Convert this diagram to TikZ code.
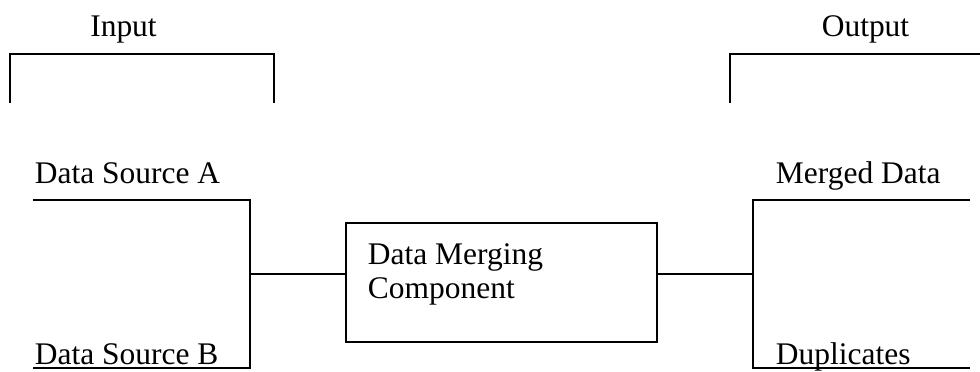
\documentclass[tikz,border=0pt]{standalone}
\usepackage{fontspec}
\setmainfont{Liberation Serif}
\usepackage{tikz}
\usetikzlibrary{calc}
\tikzset{
every picture/.style={line width=1.4pt, x=0.75pt, y=-0.75pt},
lbl/.style={inner sep=0pt, anchor=base west, font=\fontsize{23.6}{28}\selectfont}
}

\begin{document}
\begin{tikzpicture}
    \useasboundingbox (0,0) rectangle (980,371);
    % headings and brackets
    \node[lbl, anchor=base] (input) at (123.5,36) {Input};
    \node[lbl, anchor=base] (output) at (865.5,36) {Output};
    \coordinate (in1) at (10,103);
    \coordinate (in2) at (10,54);
    \coordinate (in3) at (274,54);
    \coordinate (in4) at (274,103);
    \coordinate (out1) at (730,103);
    \coordinate (out2) at (730,54);
    \coordinate (out3) at (980,54);
    \draw (in1) -- (in2) -- (in3) -- (in4);
    \draw (out1) -- (out2) -- (out3);
    % the component
    \node[draw, minimum width=233.25pt, minimum height=89.25pt, inner sep=0pt] (merge) at (501.5,282.5) {};
    \node[lbl] (mergetop) at (367,264) {Data Merging};
    \node[lbl] (mergebot) at (367,298) {Component};
    % inputs
    \node[lbl] (srcA) at (34,183) {Data Source A};
    \node[lbl] (srcB) at (34,364) {Data Source B};
    \coordinate (a) at (33,200);
    \coordinate (b) at (33,368);
    \coordinate (lt) at (250,200);
    \coordinate (lb) at (250,368);
    \coordinate (lm) at (250,274);
    \draw (a) -- (lt) -- (lb) -- (b);
    \draw (lm) -- (lm -| merge.west);
    % outputs
    \node[lbl] (merged) at (775,183) {Merged Data};
    \node[lbl] (dups) at (775,364) {Duplicates};
    \coordinate (c) at (970,200);
    \coordinate (d) at (970,368);
    \coordinate (rt) at (753,200);
    \coordinate (rb) at (753,368);
    \coordinate (rm) at (753,274);
    \draw (c) -- (rt) -- (rb) -- (d);
    \draw (rm) -- (rm -| merge.east);
  \end{tikzpicture}
\end{document}
